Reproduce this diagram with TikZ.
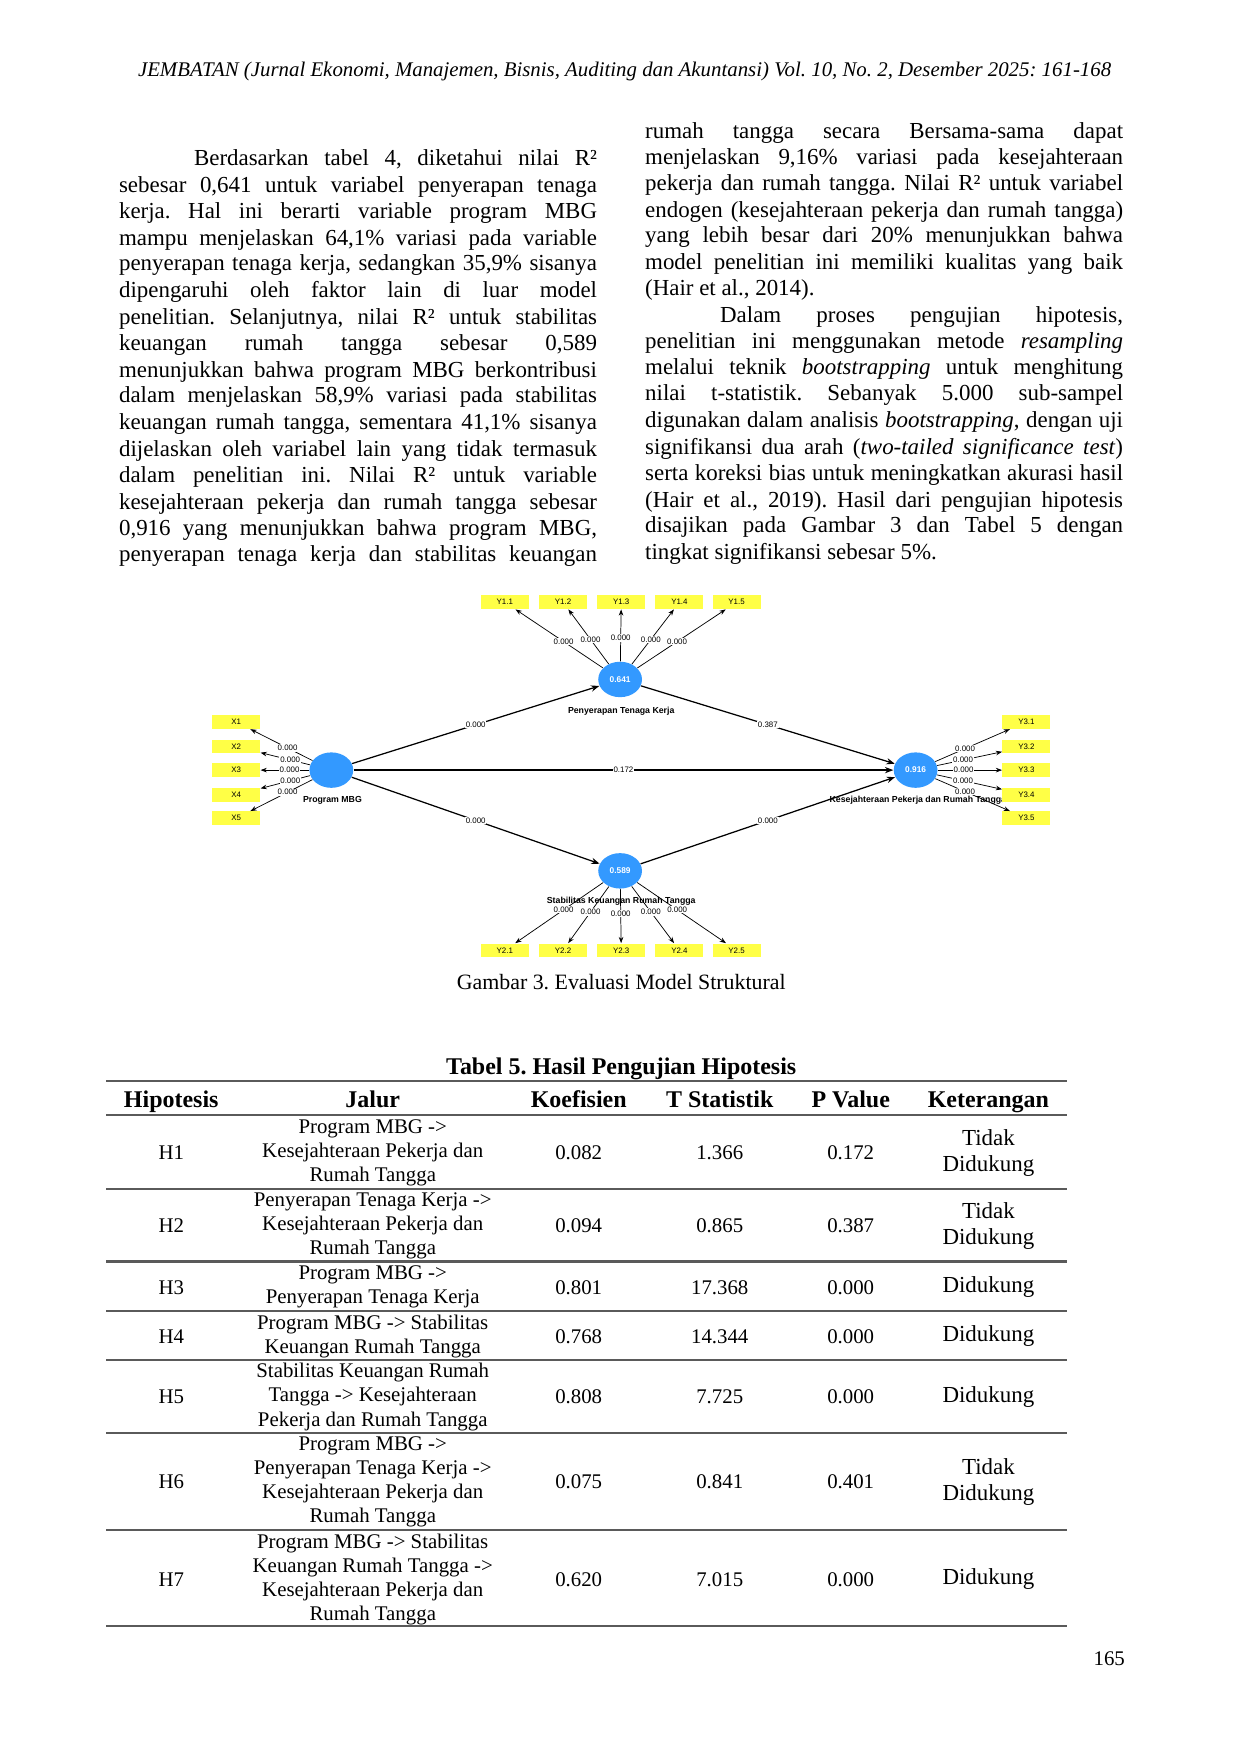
\documentclass[tikz,border=0pt]{standalone}
\usepackage{fontspec}
\setmainfont{Liberation Serif}
\newfontfamily\dsans{Liberation Sans}
\usetikzlibrary{shapes.geometric,arrows.meta}
\definecolor{lvblue}{RGB}{51,153,255}
\definecolor{indyel}{RGB}{255,255,70}
\definecolor{rulegray}{RGB}{90,90,90}
\frenchspacing
\newcommand{\jl}[4]{\node[anchor=base west,inner sep=0pt] at (#1,#2) {\makebox[#3][s]{#4}};}
\newcommand{\pl}[3]{\node[anchor=base west,inner sep=0pt] at (#1,#2) {#3};}
\begin{document}
\begin{tikzpicture}[x=0.537pt,y=-0.537pt,
  body/.style={font=\fontsize{11}{13}\selectfont},
  lv/.style={ellipse,fill=lvblue,draw=none,minimum width=21pt,minimum height=17pt,inner sep=0pt,text=white,font=\dsans\fontsize{4}{5}\selectfont\bfseries},
  ind/.style={rectangle,fill=indyel,draw=none,minimum width=23pt,minimum height=6.5pt,inner sep=0pt,font=\dsans\fontsize{3.8}{4.5}\selectfont},
  lvl/.style={font=\dsans\fontsize{4.2}{5}\selectfont\bfseries,inner sep=0pt},
  ld/.style={-{Stealth[length=3pt,width=2.2pt]},line width=0.35pt},
  pth/.style={-{Stealth[length=4pt,width=3pt]},line width=0.6pt},
  val/.style={fill=white,inner sep=0.4pt,font=\dsans\fontsize{3.8}{4.5}\selectfont},
  cell/.style={align=center,font=\fontsize{10}{11.55}\selectfont,inner sep=0pt},
  hd/.style={font=\fontsize{11.5}{13}\selectfont\bfseries,inner sep=0pt,anchor=base},
  rl/.style={draw=rulegray,line width=1pt}]
\useasboundingbox[fill=white] (0,0) rectangle (1108,1567);
\node[font=\fontsize{10}{12}\selectfont\itshape,anchor=base] (hdr) at (558,68) {JEMBATAN (Jurnal Ekonomi, Manajemen, Bisnis, Auditing dan Akuntansi) Vol. 10, No. 2, Desember 2025: 161-168};
\begin{scope}[every node/.style={body}]
\jl{173}{148}{193.3pt}{Berdasarkan tabel 4, diketahui nilai R²}
\jl{106}{172}{229.3pt}{sebesar 0,641 untuk variabel penyerapan tenaga}
\jl{106}{195}{229.3pt}{kerja. Hal ini berarti variable program MBG}
\jl{106}{219}{229.3pt}{mampu menjelaskan 64,1\% variasi pada variable}
\jl{106}{242}{229.3pt}{penyerapan tenaga kerja, sedangkan 35,9\% sisanya}
\jl{106}{266}{229.3pt}{dipengaruhi oleh faktor lain di luar model}
\jl{106}{290}{229.3pt}{penelitian. Selanjutnya, nilai R² untuk stabilitas}
\jl{106}{313}{229.3pt}{keuangan rumah tangga sebesar 0,589}
\jl{106}{337}{229.3pt}{menunjukkan bahwa program MBG berkontribusi}
\jl{106}{360}{229.3pt}{dalam menjelaskan 58,9\% variasi pada stabilitas}
\jl{106}{384}{229.3pt}{keuangan rumah tangga, sementara 41,1\% sisanya}
\jl{106}{408}{229.3pt}{dijelaskan oleh variabel lain yang tidak termasuk}
\jl{106}{431}{229.3pt}{dalam penelitian ini. Nilai R² untuk variable}
\jl{106}{455}{229.3pt}{kesejahteraan pekerja dan rumah tangga sebesar}
\jl{106}{478}{229.3pt}{0,916 yang menunjukkan bahwa program MBG,}
\jl{106}{502}{229.3pt}{penyerapan tenaga kerja dan stabilitas keuangan}
\jl{576}{124}{229.3pt}{rumah tangga secara Bersama-sama dapat}
\jl{576}{147}{229.3pt}{menjelaskan 9,16\% variasi pada kesejahteraan}
\jl{576}{170}{229.3pt}{pekerja dan rumah tangga. Nilai R² untuk variabel}
\jl{576}{194}{229.3pt}{endogen (kesejahteraan pekerja dan rumah tangga)}
\jl{576}{217}{229.3pt}{yang lebih besar dari 20\% menunjukkan bahwa}
\jl{576}{241}{229.3pt}{model penelitian ini memiliki kualitas yang baik}
\pl{576}{264}{(Hair et al., 2014).}
\jl{643}{288}{193.3pt}{Dalam proses pengujian hipotesis,}
\jl{576}{311}{229.3pt}{penelitian ini menggunakan metode \textit{resampling}}
\jl{576}{335}{229.3pt}{melalui teknik \textit{bootstrapping} untuk menghitung}
\jl{576}{358}{229.3pt}{nilai t-statistik. Sebanyak 5.000 sub-sampel}
\jl{576}{382}{229.3pt}{digunakan dalam analisis \textit{bootstrapping}, dengan uji}
\jl{576}{406}{229.3pt}{signifikansi dua arah (\textit{two-tailed significance test})}
\jl{576}{429}{229.3pt}{serta koreksi bias untuk meningkatkan akurasi hasil}
\jl{576}{453}{229.3pt}{(Hair et al., 2019). Hasil dari pengujian hipotesis}
\jl{576}{476}{229.3pt}{disajikan pada Gambar 3 dan Tabel 5 dengan}
\pl{576}{500}{tingkat signifikansi sebesar 5\%.}
\end{scope}
% ---------- diagram
\node[lv] (mbg) at (296,688) {};
\node[lv] (ptk) at (554,607) {0.641};
\node[lv] (skr) at (554,778) {0.589};
\node[lv] (kpr) at (818,688) {0.916};
\node[lvl] (lmbg) at (297,715) {Program MBG};
\node[lvl] (lptk) at (555,635) {Penyerapan Tenaga Kerja};
\node[lvl] (lskr) at (555,805) {Stabilitas Keuangan Rumah Tangga};
\node[lvl] (lkpr) at (820,715) {Kesejahteraan Pekerja dan Rumah Tangga};
\foreach \i/\x in {1/451,2/503,3/555,4/607,5/658}{
  \node[ind] (y1\i) at (\x,538) {Y1.\i};
  \node[ind] (y2\i) at (\x,849) {Y2.\i};
  \draw[ld] (ptk) -- node[val,pos=0.45]{0.000} (y1\i);
  \draw[ld] (skr) -- node[val,pos=0.45]{0.000} (y2\i);
}
\foreach \i/\y in {1/645,2/667,3/688,4/710,5/731}{
  \node[ind] (x\i) at (211,\y) {X\i};
  \node[ind] (y3\i) at (917,\y) {Y3.\i};
  \draw[ld] (mbg) -- node[val,pos=0.4]{0.000} (x\i);
  \draw[ld] (kpr) -- node[val,pos=0.4]{0.000} (y3\i);
}
\draw[pth] (mbg) -- node[val,pos=0.5]{0.000} (ptk);
\draw[pth] (ptk) -- node[val,pos=0.5]{0.387} (kpr);
\draw[pth] (mbg) -- node[val,pos=0.5]{0.172} (kpr);
\draw[pth] (mbg) -- node[val,pos=0.5]{0.000} (skr);
\draw[pth] (skr) -- node[val,pos=0.5]{0.000} (kpr);
\node[font=\fontsize{10.5}{13}\selectfont,anchor=base] (cap) at (555,884) {Gambar 3. Evaluasi Model Struktural};
% ---------- table
\node[hd] (tt) at (555,960) {Tabel 5. Hasil Pengujian Hipotesis};
\coordinate (tl) at (95,966); \coordinate (tr) at (953,966);
\draw[rl] (tl) -- (tr);
\node[hd] (h1) at (153,989) {Hipotesis};
\node[hd] (h2) at (333,989) {Jalur};
\node[hd] (h3) at (517,989) {Koefisien};
\node[hd] (h4) at (643,989) {T Statistik};
\node[hd] (h5) at (760,989) {P Value};
\node[hd] (h6) at (883,989) {Keterangan};
\foreach \y in {996,1062,1127,1171,1215,1280,1367,1453}{
  \coordinate (a\y) at (95,\y); \coordinate (b\y) at (953,\y);
  \draw[rl] (a\y) -- (b\y);
}
\foreach \yc/\h/\j/\k/\t/\p/\ket in {
 1030/H1/{Program MBG ->\\Kesejahteraan Pekerja dan\\Rumah Tangga}/0.082/1.366/0.172/{Tidak\\Didukung},
 1095/H2/{Penyerapan Tenaga Kerja ->\\Kesejahteraan Pekerja dan\\Rumah Tangga}/0.094/0.865/0.387/{Tidak\\Didukung},
 1150/H3/{Program MBG ->\\Penyerapan Tenaga Kerja}/0.801/17.368/0.000/{Didukung},
 1194/H4/{Program MBG -> Stabilitas\\Keuangan Rumah Tangga}/0.768/14.344/0.000/{Didukung},
 1248/H5/{Stabilitas Keuangan Rumah\\Tangga -> Kesejahteraan\\Pekerja dan Rumah Tangga}/0.808/7.725/0.000/{Didukung},
 1324/H6/{Program MBG ->\\Penyerapan Tenaga Kerja ->\\Kesejahteraan Pekerja dan\\Rumah Tangga}/0.075/0.841/0.401/{Tidak\\Didukung},
 1411/H7/{Program MBG -> Stabilitas\\Keuangan Rumah Tangga ->\\Kesejahteraan Pekerja dan\\Rumah Tangga}/0.620/7.015/0.000/{Didukung}}{
  \node[cell] at (153,\yc) {\h};
  \node[cell] at (333,\yc) {\j};
  \node[cell] at (517,\yc) {\k};
  \node[cell] at (643,\yc) {\t};
  \node[cell] at (760,\yc) {\p};
  \node[cell,font=\fontsize{11}{12.5}\selectfont] at (883,\yc) {\ket};
}
\node[font=\fontsize{10}{12}\selectfont,anchor=base] (pg) at (991,1488) {165};
\end{tikzpicture}
\end{document}
